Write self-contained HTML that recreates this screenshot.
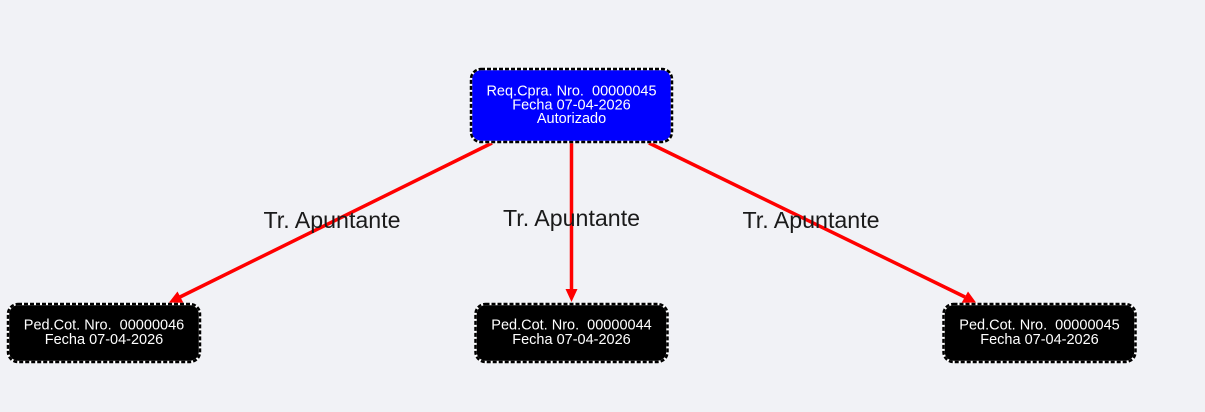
<!DOCTYPE html>
<html>
<head>
<meta charset="utf-8">
<style>
html,body{margin:0;padding:0;background:#f1f2f6;}
svg{display:block;}
text{font-family:"Liberation Sans",Arial,sans-serif;white-space:pre;}
</style>
</head>
<body>
<svg width="1205" height="412" viewBox="0 0 1205 412" xmlns="http://www.w3.org/2000/svg">
<rect x="0" y="0" width="1205" height="412" fill="#f1f2f6"/>
<!-- edges -->
<g stroke="#ff0000" stroke-width="3.5" fill="none">
<line x1="492" y1="143" x2="180" y2="297"/>
<line x1="571.5" y1="143" x2="571.5" y2="291"/>
<line x1="649" y1="143" x2="965" y2="297"/>
</g>
<g fill="#ff0000">
<polygon points="169,302.5 177.5,291.5 183.5,303"/>
<polygon points="571.5,302 565.5,289 577.5,289"/>
<polygon points="976,302.5 961.5,303 968,291.5"/>
</g>
<!-- labels -->
<g font-size="23.2" fill="#1a1a1a" text-anchor="middle">
<text x="332" y="228">Tr. Apuntante</text>
<text x="571.5" y="226">Tr. Apuntante</text>
<text x="811" y="228">Tr. Apuntante</text>
</g>
<!-- top node -->
<rect x="471" y="69" width="201" height="73" rx="10" ry="10" fill="#0000ff" stroke="#ffffff" stroke-width="2.5"/>
<rect x="471" y="69" width="201" height="73" rx="10" ry="10" fill="none" stroke="#000" stroke-width="2.5" stroke-dasharray="4,2"/>
<g font-size="14.5" fill="#ffffff" text-anchor="middle">
<text x="571.5" y="95.5">Req.Cpra. Nro.  00000045</text>
<text x="571.5" y="109.3">Fecha 07-04-2026</text>
<text x="571.5" y="123">Autorizado</text>
</g>
<!-- bottom nodes -->
<g>
<rect x="8" y="304" width="192" height="58" rx="10" ry="10" fill="#000" stroke="#ffffff" stroke-width="2.5"/>
<rect x="8" y="304" width="192" height="58" rx="10" ry="10" fill="none" stroke="#000" stroke-width="2.5" stroke-dasharray="4,2"/>
<rect x="475.5" y="304" width="192" height="58" rx="10" ry="10" fill="#000" stroke="#ffffff" stroke-width="2.5"/>
<rect x="475.5" y="304" width="192" height="58" rx="10" ry="10" fill="none" stroke="#000" stroke-width="2.5" stroke-dasharray="4,2"/>
<rect x="943.5" y="304" width="192" height="58" rx="10" ry="10" fill="#000" stroke="#ffffff" stroke-width="2.5"/>
<rect x="943.5" y="304" width="192" height="58" rx="10" ry="10" fill="none" stroke="#000" stroke-width="2.5" stroke-dasharray="4,2"/>
</g>
<g font-size="14.5" fill="#ffffff" text-anchor="middle">
<text x="104" y="329.5">Ped.Cot. Nro.  00000046</text>
<text x="104" y="344">Fecha 07-04-2026</text>
<text x="571.5" y="329.5">Ped.Cot. Nro.  00000044</text>
<text x="571.5" y="344">Fecha 07-04-2026</text>
<text x="1039.5" y="329.5">Ped.Cot. Nro.  00000045</text>
<text x="1039.5" y="344">Fecha 07-04-2026</text>
</g>
</svg>
</body>
</html>
